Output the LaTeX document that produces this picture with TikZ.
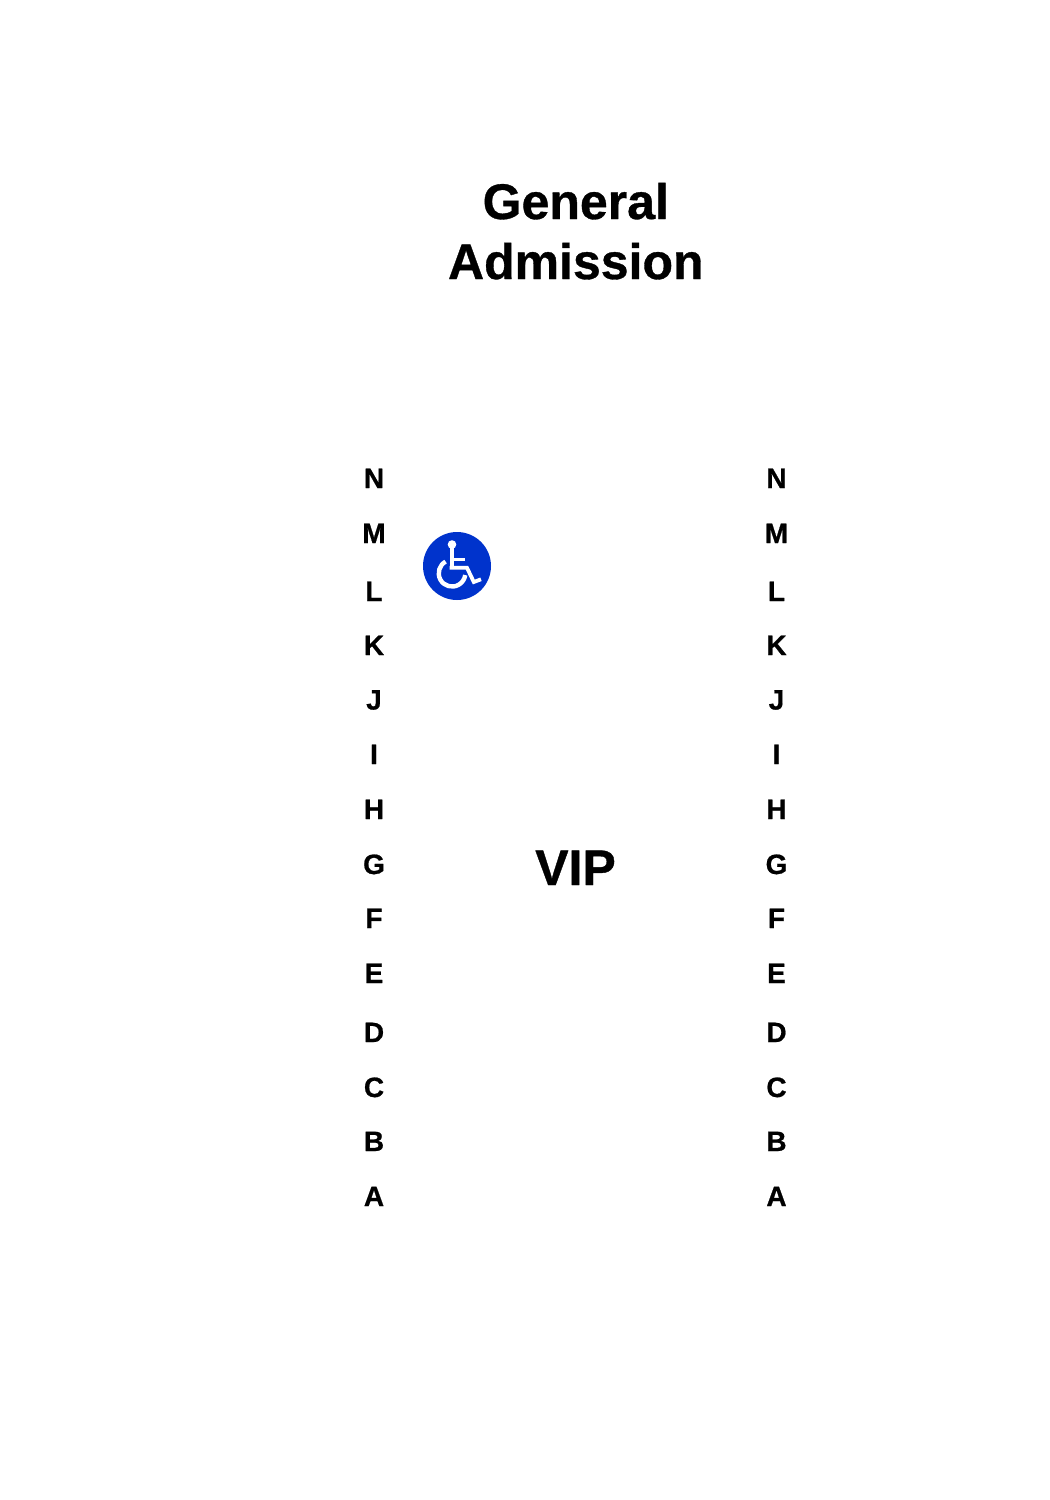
\documentclass[tikz,border=0pt]{standalone}
\usepackage{fontspec}
\setmainfont[BoldFeatures={FakeBold=0.7}]{Liberation Sans}
\definecolor{wcblue}{HTML}{0033CC}
\tikzset{
  seat/.style={font=\fontsize{28}{28}\selectfont\bfseries,anchor=base,inner sep=0pt,outer sep=0pt,text=black},
  big/.style={font=\fontsize{50}{50}\selectfont\bfseries,anchor=base,inner sep=0pt,outer sep=0pt,text=black},
  wc/.style={draw=white,line cap=butt,line join=miter}
}
\begin{document}
\begin{tikzpicture}[x=1pt,y=-1pt]
\useasboundingbox[fill=white] (0,0) rectangle (1050,1500);
\node[big] (t1) at (575.8,219) {General};
\node[big] (t2) at (575.8,279) {Admission};
\node[big] (vip) at (575.5,885) {VIP};
\foreach \l/\y in {N/488,M/543,L/601,K/655,J/709.5,I/764,H/819,G/874,F/928,E/983,D/1042,C/1097,B/1151,A/1206}{
  \node[seat] (left\l) at (374,\y) {\l};
  \node[seat] (right\l) at (776.5,\y) {\l};
}
\fill[wcblue] (457,566) circle[radius=34];
\fill[white] (452,544.5) circle[radius=4.3];
\draw[wc,line width=4.6pt] (451.8,546) -- (451.8,567.8);
\draw[wc,line width=3.8pt] (449.5,567.8) -- (467,567.8) -- (473.8,582) -- (481,579.3);
\draw[wc,line width=3.2pt] (452,559.3) -- (465,559.3);
\draw[wc,line width=4.4pt] (445.6,561.6) arc[start angle=-119,end angle=-352,radius=13.3];
\end{tikzpicture}
\end{document}
